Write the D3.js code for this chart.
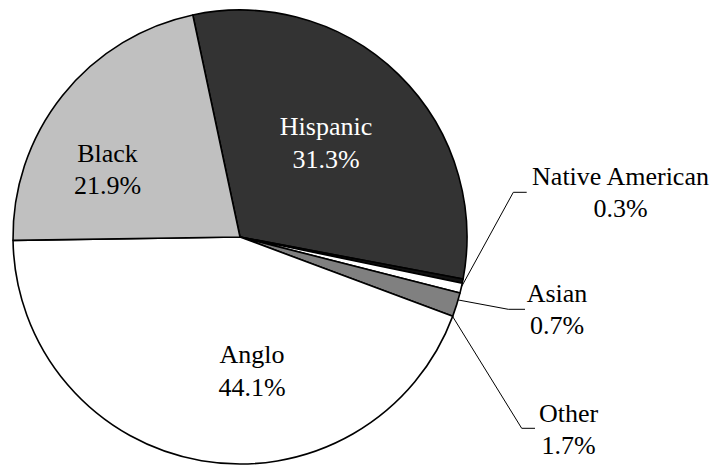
<!DOCTYPE html>
<html>
<head>
<meta charset="utf-8">
<script src="https://cdn.jsdelivr.net/npm/d3@7"></script>
</head>
<body style="margin:0">
<script>
// ---- data ----
const categories = ["Hispanic", "Native American", "Asian", "Other", "Anglo", "Black"];
const values = [31.3, 0.3, 0.7, 1.7, 44.1, 21.9];
const valueLabels = ["31.3%", "0.3%", "0.7%", "1.7%", "44.1%", "21.9%"];

// ---- style / layout ----
const W = 713, H = 465;
const cx = 240, cy = 237, R = 227;
const startDeg = -12;
const fills = {
  "Hispanic": "#333333",
  "Native American": "#111111",
  "Asian": "#ffffff",
  "Other": "#808080",
  "Anglo": "#ffffff",
  "Black": "#c0c0c0"
};
const textFill = { "Hispanic": "#ffffff" };
const fontFamily = "'Liberation Serif'";
const fontSize = 26, lineGap = 32.5;
// label anchor (center x, first baseline y) in pixels
const labelPos = {
  "Hispanic": [326, 135],
  "Native American": [620.5, 184.5],
  "Asian": [557, 301.7],
  "Other": [568.5, 421.7],
  "Anglo": [252, 363],
  "Black": [107.5, 161.7]
};
// leader lines: anchor angle on the rim (deg), elbow, end
const leaders = {
  "Native American": { deg: 102.7, elbow: [513.3, 192.3], end: [526.7, 192.3] },
  "Asian": { deg: 106.1, elbow: [508.3, 309.3], end: [525, 309.3] },
  "Other": { deg: 110.5, elbow: [521.7, 428.3], end: [535, 428.3] }
};

const rows = categories.map((c, i) => ({ cat: c, value: values[i], label: valueLabels[i] }));

const svg = d3.select("body").append("svg")
  .attr("width", W).attr("height", H);

const rad = d => d * Math.PI / 180;
const pie = d3.pie().sort(null).value(d => d.value)
  .startAngle(rad(startDeg)).endAngle(rad(startDeg) + 2 * Math.PI);
const arc = d3.arc().innerRadius(0).outerRadius(R);

const g = svg.append("g").attr("transform", `translate(${cx},${cy})`);
g.selectAll("path.slice")
  .data(pie(rows))
  .join("path")
  .attr("class", "slice")
  .attr("d", arc)
  .attr("fill", d => fills[d.data.cat])
  .attr("stroke", "#000")
  .attr("stroke-width", 1.6)
  .attr("stroke-linejoin", "round");

// leader lines
const line = d3.line();
svg.selectAll("path.leader")
  .data(rows.filter(r => leaders[r.cat]))
  .join("path")
  .attr("class", "leader")
  .attr("d", r => {
    const L = leaders[r.cat];
    const p = d3.pointRadial(rad(L.deg), R);
    return line([[cx + p[0], cy + p[1]], L.elbow, L.end]);
  })
  .attr("fill", "none")
  .attr("stroke", "#000")
  .attr("stroke-width", 1);

// labels: two lines each (category, percentage), centred by measured width
const lines = rows.flatMap(r => [
  { r, text: r.cat, dy: 0 },
  { r, text: r.label, dy: lineGap }
]);
svg.selectAll("text.lbl")
  .data(lines)
  .join("text")
  .attr("class", "lbl")
  .attr("y", d => labelPos[d.r.cat][1] + d.dy)
  .attr("font-size", fontSize)
  .style("font-family", fontFamily)
  .attr("fill", d => textFill[d.r.cat] || "black")
  .text(d => d.text)
  .attr("x", function (d) {
    return labelPos[d.r.cat][0] - this.getComputedTextLength() / 2;
  });
</script>
</body>
</html>
